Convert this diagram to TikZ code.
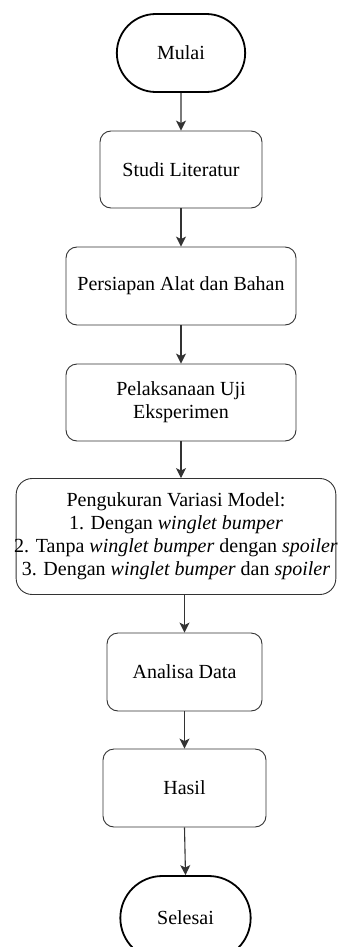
\documentclass[tikz,border=0pt]{standalone}
\usepackage{fontspec}
\setmainfont{Liberation Serif}
\usepackage{tikz}
\usetikzlibrary{shapes.misc, arrows.meta, positioning}
\tikzstyle{terminal} = [rounded rectangle, minimum width=135pt, minimum height=78pt, draw=black, line width=1.8pt, font=\fontsize{20}{23}\selectfont]
\tikzstyle{process} = [rectangle, rounded corners=11pt, minimum height=77pt, draw=black!80, line width=0.9pt, align=center, font=\fontsize{20}{23}\selectfont]
\tikzstyle{arrow} = [line width=1.1pt, draw=black!80, -{Stealth[length=10pt, width=10pt, inset=2.5pt]}]

\begin{document}
\begin{tikzpicture}[node distance=116pt]
\useasboundingbox (0,0) rectangle (339pt,-947pt);
\node (mulai) [terminal] at (181pt,-53pt) {Mulai};
\node (studi) [process, minimum width=162pt, below of=mulai, yshift=-0.5pt] {Studi Literatur};
\node (persiapan) [process, minimum width=230pt, minimum height=78pt, below of=studi, yshift=-0.5pt] {Persiapan Alat dan Bahan};
\node (pelaksanaan) [process, minimum width=230pt, below of=persiapan, yshift=-0.5pt] {Pelaksanaan Uji\\Eksperimen};
\node (pengukuran) [process, rounded corners=16pt, inner xsep=-2pt, minimum height=116pt, below of=pelaksanaan, xshift=-5pt, yshift=-18pt] {Pengukuran Variasi Model:\\
1. Dengan \textit{winglet bumper}\\
2. Tanpa \textit{winglet bumper} dengan \textit{spoiler}\\
3. Dengan \textit{winglet bumper} dan \textit{spoiler}};
\node (analisa) [process, minimum width=155pt, minimum height=78pt, below of=pengukuran, xshift=8.5pt, yshift=-19.5pt] {Analisa Data};
\node (hasil) [process, minimum width=163pt, minimum height=78pt, below of=analisa] {Hasil};
\node (selesai) [terminal, minimum width=137pt, minimum height=84pt, below of=hasil, xshift=1pt, yshift=-14pt] {Selesai};
% connectors
\draw [arrow] (mulai) -- (studi);
\draw [arrow] (studi) -- (persiapan);
\draw [arrow] (persiapan) -- (pelaksanaan);
\draw [arrow] (pelaksanaan.south) -- (pelaksanaan.south |- pengukuran.north);
\draw [arrow] (analisa.north |- pengukuran.south) -- (analisa.north);
\draw [arrow] (analisa) -- (hasil);
\draw [arrow] (hasil.south) -- (selesai.north);
\end{tikzpicture}
\end{document}
